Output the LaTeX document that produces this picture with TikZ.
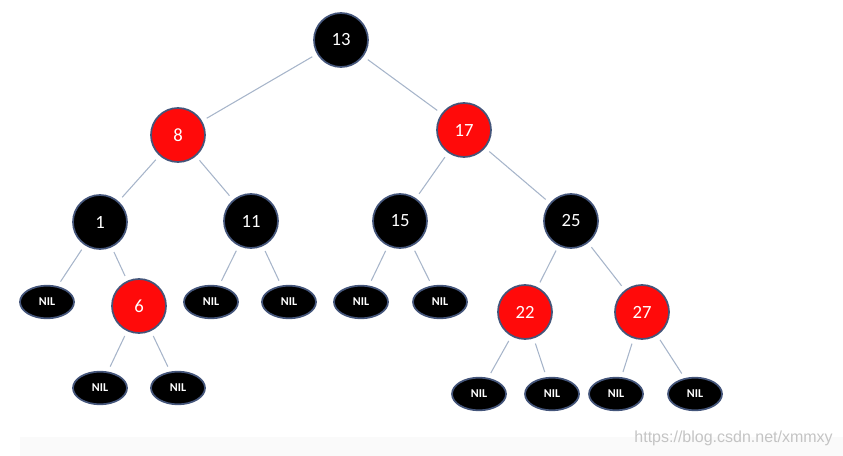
\documentclass[tikz,border=0pt]{standalone}
\usepackage{fontspec}
\setsansfont{Carlito}
\newfontfamily\filigranafont{Liberation Sans}
\usetikzlibrary{shapes.geometric}
\definecolor{alberobordo}{HTML}{44557A}
\definecolor{alberoramo}{HTML}{A7B5CA}
\definecolor{alberorosso}{HTML}{FF0A0A}
\definecolor{filigrana}{HTML}{C4C4C4}
\definecolor{fondino}{HTML}{FAFAFA}

\tikzset{
  nodo/.style={circle, draw=alberobordo, line width=1.3pt, minimum size=40.5pt, inner sep=0pt,
               text=white, font=\sffamily\fontsize{14}{16}\selectfont},
  nero/.style={nodo, fill=black},
  rosso/.style={nodo, fill=alberorosso},
  foglia/.style={ellipse, draw=alberobordo, line width=1.3pt, fill=black, inner sep=0pt,
                 minimum width=40.5pt, minimum height=24.5pt,
                 text=white, font=\bfseries\sffamily\fontsize{9}{10}\selectfont},
  ramo/.style={draw=alberoramo, line width=0.8pt, shorten >=4pt, shorten <=4pt}
}

\begin{document}
\begin{tikzpicture}[x=0.75pt,y=-0.75pt]

  % ---- Area del disegno (pixel del riferimento) ----------------------------
  \useasboundingbox (0,0) rectangle (843,456);
  \fill[fondino] (20,437) rectangle (843,456);

  % ---- Nodi interni ---------------------------------------------------------
  \node[nero]  (n13) at (341,40)  {13};
  \node[rosso] (n8)  at (178,135) {8};
  \node[rosso] (n17) at (464,130) {17};
  \node[nero]  (n1)  at (100,222) {1};
  \node[nero]  (n11) at (251,221) {11};
  \node[nero]  (n15) at (400,221) {15};
  \node[nero]  (n25) at (571,221) {25};
  \node[rosso] (n6)  at (139,306) {6};
  \node[rosso] (n22) at (525,312) {22};
  \node[rosso] (n27) at (642,312) {27};

  % ---- Foglie NIL -----------------------------------------------------------
  \node[foglia] (nil1)  at (47,302)  {NIL};
  \node[foglia] (nil6a) at (100,388) {NIL};
  \node[foglia] (nil6b) at (178,388) {NIL};
  \node[foglia] (nil11a) at (211,302) {NIL};
  \node[foglia] (nil11b) at (289,302) {NIL};
  \node[foglia] (nil15a) at (361,302) {NIL};
  \node[foglia] (nil15b) at (440,302) {NIL};
  \node[foglia] (nil22a) at (479,394) {NIL};
  \node[foglia] (nil22b) at (552,394) {NIL};
  \node[foglia] (nil27a) at (616,394) {NIL};
  \node[foglia] (nil27b) at (695,394) {NIL};

  % ---- Rami -----------------------------------------------------------------
  \foreach \padre/\figlio in {n13/n8, n13/n17, n8/n1, n8/n11, n17/n15, n17/n25,
                              n1/nil1, n1/n6, n6/nil6a, n6/nil6b,
                              n11/nil11a, n11/nil11b, n15/nil15a, n15/nil15b,
                              n25/n22, n25/n27, n22/nil22a, n22/nil22b,
                              n27/nil27a, n27/nil27b}
    \draw[ramo] (\padre) -- (\figlio);

  % Filigrana
  \node[anchor=east, text=filigrana, font=\filigranafont\fontsize{12}{14}\selectfont, inner sep=0pt]
    (firma) at (833,438) {https://blog.csdn.net/xmmxy};

\end{tikzpicture}
\end{document}
